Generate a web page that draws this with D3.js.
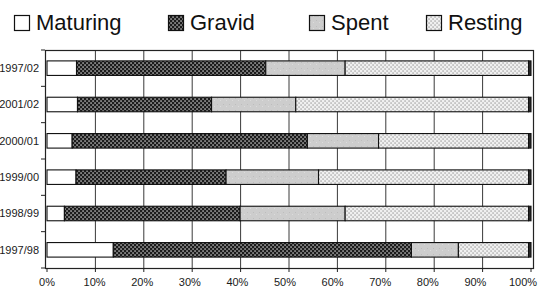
<!DOCTYPE html>
<html>
<head>
<meta charset="utf-8">
<script src="https://cdn.jsdelivr.net/npm/d3@7"></script>
<style>
  html, body { margin: 0; padding: 0; background: #fff; }
  svg { display: block; font-family: Arial, "Liberation Sans", Helvetica, sans-serif; }
</style>
</head>
<body>
<svg id="chart" width="545" height="289"></svg>
<script>
// ---- data (percent of fish in each stage) ----
const categories = ["1997/02", "2001/02", "2000/01", "1999/00", "1998/99", "1997/98"];
const seriesNames = ["Maturing", "Gravid", "Spent", "Resting"];
const maturing = [6.1, 6.3, 5.2, 6.0, 3.6, 13.7];
const gravid   = [39.1, 27.7, 48.6, 31.0, 36.3, 61.6];
const spent    = [16.4, 17.4, 14.7, 19.1, 21.7, 9.7];
const resting  = [37.9, 48.1, 31.0, 43.4, 37.9, 14.5];
const other    = [0.5, 0.5, 0.5, 0.5, 0.5, 0.5];   // thin dark end segment (not in legend)
const xTicks = [0, 10, 20, 30, 40, 50, 60, 70, 80, 90, 100];
const xTickLabels = ["0%", "10%", "20%", "30%", "40%", "50%", "60%", "70%", "80%", "90%", "100%"];

const svg = d3.select("#chart");

// ---- patterns ----
const defs = svg.append("defs");
const pg = defs.append("pattern").attr("id", "pGravid").attr("patternUnits", "userSpaceOnUse")
  .attr("width", 4).attr("height", 4);
pg.append("rect").attr("width", 4).attr("height", 4).attr("fill", "#1c1c1c");
pg.append("rect").attr("x", 0.4).attr("y", 0.4).attr("width", 1.3).attr("height", 1.3).attr("fill", "#e8e8e8");
pg.append("rect").attr("x", 2.4).attr("y", 2.4).attr("width", 1.3).attr("height", 1.3).attr("fill", "#e8e8e8");

const pr = defs.append("pattern").attr("id", "pResting").attr("patternUnits", "userSpaceOnUse")
  .attr("width", 4).attr("height", 4);
pr.append("rect").attr("width", 4).attr("height", 4).attr("fill", "#f0f0f0");
pr.append("rect").attr("x", 0.5).attr("y", 0.5).attr("width", 1.1).attr("height", 1.1).attr("fill", "#7a7a7a");
pr.append("rect").attr("x", 2.5).attr("y", 2.5).attr("width", 1.1).attr("height", 1.1).attr("fill", "#7a7a7a");

const ps = defs.append("pattern").attr("id", "pSpent").attr("patternUnits", "userSpaceOnUse")
  .attr("width", 6).attr("height", 6);
ps.append("rect").attr("width", 6).attr("height", 6).attr("fill", "#cdcdcd");
ps.append("rect").attr("x", 1).attr("y", 2).attr("width", 1).attr("height", 1).attr("fill", "#bdbdbd");
ps.append("rect").attr("x", 4).attr("y", 4).attr("width", 1).attr("height", 1).attr("fill", "#dcdcdc");

const fills = {
  "Maturing": "#ffffff",
  "Gravid": "url(#pGravid)",
  "Spent": "url(#pSpent)",
  "Resting": "url(#pResting)",
  "Other": "#2a2a2a"
};

// ---- scales ----
const x = d3.scaleLinear().domain([0, 100]).range([47, 531]);
const y = d3.scaleBand().domain(categories).range([50, 268]).paddingInner(0.6).paddingOuter(0.3);

const plotLeft = x(0) - 2, plotRight = x(100) + 2, plotTop = 50, plotBottom = 268;

// ---- gridlines ----
svg.append("g").selectAll("line").data(xTicks.slice(1, -1)).join("line")
  .attr("x1", d => x(d)).attr("x2", d => x(d))
  .attr("y1", plotTop).attr("y2", plotBottom)
  .attr("stroke", "#3a3a3a").attr("stroke-width", 1);

// ---- frame ----
svg.append("rect").attr("x", plotLeft + 0.5).attr("y", plotTop + 0.5)
  .attr("width", plotRight - plotLeft).attr("height", plotBottom - plotTop)
  .attr("fill", "none").attr("stroke", "#222").attr("stroke-width", 1.2);

// ---- stacked bars ----
const rows = categories.map((c, i) => ({
  cat: c, Maturing: maturing[i], Gravid: gravid[i], Spent: spent[i], Resting: resting[i], Other: other[i]
}));
const keys = ["Maturing", "Gravid", "Spent", "Resting", "Other"];
const stacked = d3.stack().keys(keys)(rows);

svg.append("g").selectAll("g").data(stacked).join("g")
  .attr("fill", d => fills[d.key])
  .selectAll("rect").data(d => d).join("rect")
  .attr("x", d => x(d[0]))
  .attr("width", d => x(d[1]) - x(d[0]))
  .attr("y", d => y(d.data.cat))
  .attr("height", y.bandwidth())
  .attr("stroke", "#111").attr("stroke-width", 1.1);

// ---- y axis ticks (between categories) & labels ----
const step = y.step();
const yTickPos = d3.range(categories.length + 1).map(i => plotTop + i * step);
svg.append("g").selectAll("line").data(yTickPos).join("line")
  .attr("x1", plotLeft - 4).attr("x2", plotLeft)
  .attr("y1", d => d).attr("y2", d => d)
  .attr("stroke", "#222").attr("stroke-width", 1);

svg.append("g").selectAll("text").data(categories).join("text")
  .attr("x", 39).attr("y", d => y(d) + y.bandwidth() / 2)
  .attr("dy", "0.36em")
  .attr("text-anchor", "end")
  .attr("font-size", 11).attr("fill", "#1a1a1a")
  .text(d => d);

// ---- x axis ticks & labels ----
svg.append("g").selectAll("line").data(xTicks).join("line")
  .attr("x1", d => x(d)).attr("x2", d => x(d))
  .attr("y1", plotBottom).attr("y2", plotBottom + 4)
  .attr("stroke", "#222").attr("stroke-width", 1);

svg.append("g").selectAll("text").data(xTicks).join("text")
  .attr("x", (d, i) => x(d) - i * 0.8)
  .attr("y", 286)
  .attr("text-anchor", "middle")
  .attr("font-size", 11).attr("fill", "#1a1a1a")
  .text((d, i) => xTickLabels[i]);

// ---- legend ----
const legendX = [14, 168, 309, 426];
const lg = svg.append("g").selectAll("g").data(seriesNames).join("g")
  .attr("transform", (d, i) => `translate(${legendX[i]},0)`);
lg.append("rect").attr("x", 0.5).attr("y", 15.5).attr("width", 15).attr("height", 15)
  .attr("fill", d => fills[d]).attr("stroke", "#111").attr("stroke-width", 1.2);
lg.append("text").attr("x", 22).attr("y", 30)
  .attr("font-size", 22).attr("fill", "#111")
  .text(d => d);
</script>
</body>
</html>
